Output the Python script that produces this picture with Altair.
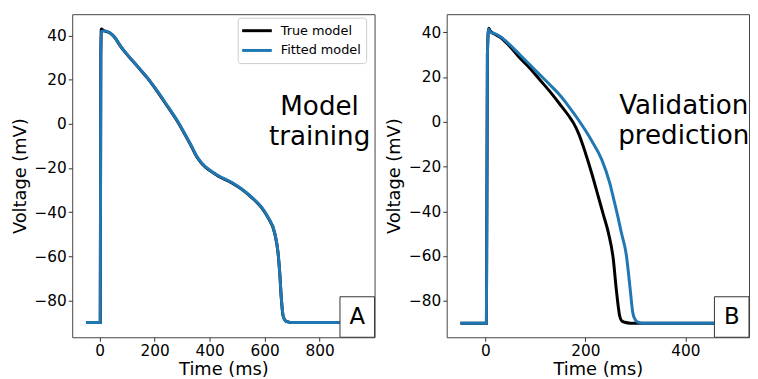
import altair as alt
import pandas as pd

FONT = "DejaVu Sans"

# ---------------- Panel A: model training ----------------
a_true_t = [-50, 0, 2, 4, 6, 12, 20, 36, 54, 78, 102, 138, 174, 210, 246, 282, 306, 335, 350, 365, 380, 400, 432, 481, 517, 553, 589, 613, 637, 649, 655, 661, 667, 675, 685, 700, 800, 950]
a_true_v = [-90, -90, -90, 30, 43, 42.4, 42, 41.2, 39.2, 34.7, 31.0, 25.9, 20.7, 14.6, 8.0, 1.3, -3.9, -10.5, -14.2, -17.0, -19.1, -21.1, -23.7, -26.8, -29.7, -33.4, -37.9, -42.6, -49.7, -58.6, -67.5, -79.4, -86.8, -89.1, -89.7, -90, -90, -90]
a_fit_t = [-50, 0, 2, 4, 6, 12, 20, 36, 54, 78, 102, 138, 174, 210, 246, 282, 306, 335, 350, 365, 380, 400, 432, 481, 517, 553, 589, 613, 637, 649, 655, 661, 667, 675, 685, 700, 800, 950]
a_fit_v = [-90, -90, -90, 30, 41.8, 42, 42, 41.3, 39.3, 34.8, 31.1, 26.0, 20.8, 14.8, 8.2, 1.5, -3.7, -10.3, -14.0, -16.8, -18.9, -20.9, -23.5, -26.6, -29.5, -33.2, -37.7, -42.4, -49.5, -58.5, -67.4, -79.3, -86.7, -89.1, -89.7, -90, -90, -90]

# ---------------- Panel B: validation prediction ----------------
b_true_t = [-50, 0, 2, 4, 6.5, 10, 16.5, 29.5, 49, 69, 88.5, 108, 128, 147.5, 167, 177, 187, 200, 213, 226, 236, 246, 255.7, 262, 268.8, 273, 278.7, 290, 500]
b_true_v = [-90, -90, -90, 30, 41.8, 40.5, 39.4, 37.8, 33.7, 28.5, 24.1, 19.0, 13.8, 8.3, 2.6, -0.8, -5.5, -13.8, -23.2, -33.5, -41.5, -49.5, -61.0, -75.1, -86.9, -89.0, -89.6, -90, -90]
b_fit_t = [-50, 0, 2, 4, 6.5, 10, 16.5, 29.5, 49, 69, 88.5, 108, 128, 147.5, 167, 187, 200, 213, 233, 249, 257, 265.5, 272, 282, 288.5, 295, 300, 305, 315, 500]
b_fit_v = [-90, -90, -90, 30, 41.5, 40.0, 39.6, 38.1, 34.4, 30.0, 25.6, 21.2, 16.8, 12.3, 6.8, 0.6, -3.8, -8.6, -17.0, -27.5, -34.8, -42.8, -49.5, -59.5, -72.2, -85.4, -88.5, -89.5, -90, -90]

SERIES = ["True model", "Fitted model"]
COLORS = ["#000000", "#1f77b4"]
Y_TICKS = [-80, -60, -40, -20, 0, 20, 40]
A_X_TICKS = [0, 200, 400, 600, 800]
B_X_TICKS = [0, 200, 400]
A_ANNOT = {"t": [800], "v": [3.9], "text": ["Model\ntraining"]}
B_ANNOT = {"t": [397], "v": [3.4], "text": ["Validation\nprediction"]}

W, H = 306, 327


def frame(t, v, name):
    return pd.DataFrame({"t": t, "v": v, "series": name})


color_scale = alt.Scale(domain=SERIES, range=COLORS)
ONE = pd.DataFrame({"k": [0]})


def legend_layers():
    layers = [
        alt.Chart(ONE).mark_rect(fill="white", fillOpacity=0.8, stroke="#cccccc",
                                 strokeWidth=1, cornerRadius=3).encode(
            x=alt.value(168), x2=alt.value(298), y=alt.value(4), y2=alt.value(50))
    ]
    for i, (name, col) in enumerate(zip(SERIES, COLORS)):
        yy = 16.7 + 20 * i
        layers.append(alt.Chart(ONE).mark_rule(strokeWidth=3, color=col).encode(
            x=alt.value(172), x2=alt.value(202), y=alt.value(yy)))
        layers.append(alt.Chart(ONE).mark_text(
            text=name, font=FONT, fontSize=13, align="left", baseline="middle", color="black"
        ).encode(x=alt.value(211), y=alt.value(yy)))
    return layers


def panel(dtrue, dfit, xdomain, xticks, ydomain, annot, letter, show_legend):
    x = alt.X("t:Q", scale=alt.Scale(domain=xdomain, nice=False, zero=False),
              axis=alt.Axis(values=xticks, title="Time (ms)"))
    y = alt.Y("v:Q", scale=alt.Scale(domain=ydomain, nice=False, zero=False),
              axis=alt.Axis(values=Y_TICKS, title="Voltage (mV)"))
    color = alt.Color("series:N", scale=color_scale, legend=None)
    l1 = alt.Chart(dtrue).mark_line(strokeWidth=3, interpolate="monotone").encode(x=x, y=y, color=color)
    l2 = alt.Chart(dfit).mark_line(strokeWidth=3, interpolate="monotone").encode(x=x, y=y, color=color)
    txt = alt.Chart(pd.DataFrame(annot)).mark_text(
        font=FONT, fontSize=26.5, align="center", baseline="alphabetic",
        lineBreak="\n", lineHeight=30, color="black"
    ).encode(x="t:Q", y="v:Q", text="text:N")
    box = alt.Chart(ONE).mark_rect(
        fill="white", stroke="#333333", strokeWidth=1
    ).encode(x=alt.value(W - 35), x2=alt.value(W), y=alt.value(H - 41), y2=alt.value(H))
    let = alt.Chart(ONE).mark_text(
        text=letter, font=FONT, fontSize=23, align="center", baseline="middle", color="black"
    ).encode(x=alt.value(W - 17.5), y=alt.value(H - 20))
    layers = [l1, l2, txt, box, let]
    if show_legend:
        layers += legend_layers()
    return alt.layer(*layers).properties(width=W, height=H)


pa = panel(frame(a_true_t, a_true_v, "True model"), frame(a_fit_t, a_fit_v, "Fitted model"),
           [-100, 1000], A_X_TICKS, [-96.65, 49.65], A_ANNOT, "A", True)
pb = panel(frame(b_true_t, b_true_v, "True model"), frame(b_fit_t, b_fit_v, "Fitted model"),
           [-77.5, 527.5], B_X_TICKS, [-96.3, 48.1], B_ANNOT, "B", False)

chart = alt.hconcat(pa, pb, spacing=9).resolve_scale(
    x="independent", y="independent", color="shared"
).properties(
    padding={"left": 2, "top": 3, "right": 0, "bottom": 0}
).configure_axis(
    labelFont=FONT, titleFont=FONT, labelFontSize=15.5, titleFontSize=18,
    titleFontWeight="normal", labelColor="black", titleColor="black",
    tickColor="#333333", tickSize=4, labelPadding=2, titlePadding=5,
    grid=False, domain=False
).configure_axisBottom(
    titleBaseline="alphabetic", titlePadding=16
).configure_view(
    stroke="#444444", strokeWidth=1
)

chart.save("out.html", embed_options={"renderer": "svg", "actions": False})
